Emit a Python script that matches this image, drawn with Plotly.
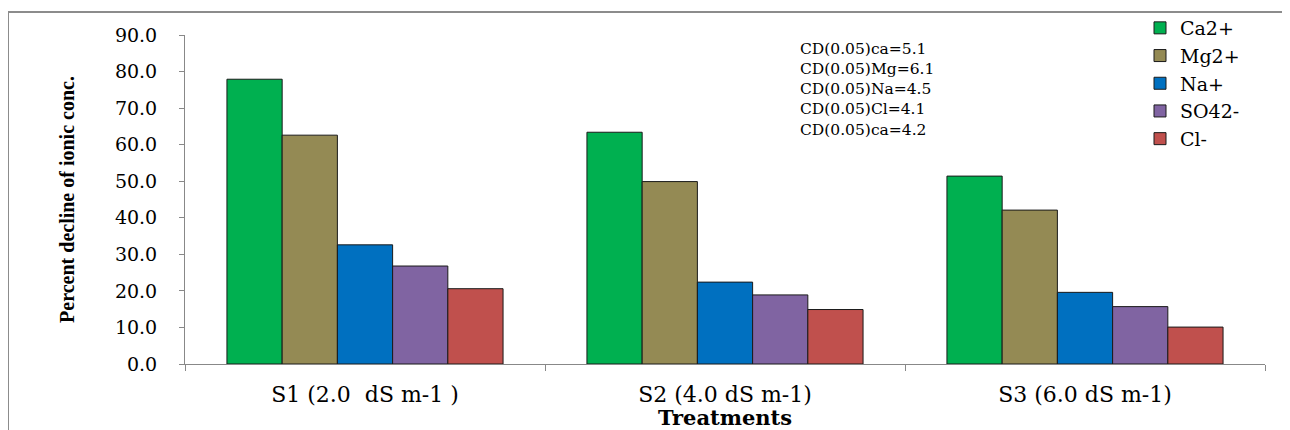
import plotly.graph_objects as go

categories = ["S1 (2.0  dS m-1 )", "S2 (4.0 dS m-1)", "S3 (6.0 dS m-1)"]
series_names = ["Ca2+", "Mg2+", "Na+", "SO42-", "Cl-"]
ca = [77.9, 63.4, 51.4]
mg = [62.6, 49.9, 42.1]
na = [32.6, 22.4, 19.6]
so4 = [26.8, 18.9, 15.7]
cl = [20.6, 14.9, 10.1]
series_values = [ca, mg, na, so4, cl]
colors = ["#00B050", "#948A54", "#0070C0", "#8064A2", "#C0504D"]
y_ticks = [0, 10, 20, 30, 40, 50, 60, 70, 80, 90]
y_tick_labels = [f"{v:.1f}" for v in y_ticks]
cd_lines = ["CD(0.05)ca=5.1", "CD(0.05)Mg=6.1", "CD(0.05)Na=4.5",
            "CD(0.05)Cl=4.1", "CD(0.05)ca=4.2"]

OFF = 8  # browser body margin
W, H = 1290 - OFF, 430 - OFF
L, R, T, B = 185 - OFF, 25, 35 - OFF, 66
pw, ph = W - L - R, H - T - B

def sx(px):
    return (px - OFF - L) / pw

def sy(py):
    return (H - B - (py - OFF)) / ph

serif = "Liberation Serif, Times New Roman, serif"
wide = "DejaVu Serif, serif"

fig = go.Figure()
for i, (name, vals, col) in enumerate(zip(series_names, series_values, colors)):
    fig.add_trace(go.Bar(
        x=categories, y=vals, name=name, legendgroup=f"g{i}",
        marker=dict(color=col, line=dict(color="#1a1a1a", width=1)),
    ))

fig.update_layout(
    width=W, height=H,
    margin=dict(l=L, r=R, t=T, b=B, autoexpand=False),
    paper_bgcolor="white", plot_bgcolor="white",
    barmode="group", bargap=0.233, bargroupgap=0,
    font=dict(family=wide, size=17, color="black"),
    showlegend=True,
    legend=dict(
        x=sx(1140), y=sy(9), xanchor="left", yanchor="top",
        font=dict(family=wide, size=19, color="black"),
        tracegroupgap=0, bgcolor="rgba(0,0,0,0)", itemwidth=30,
    ),
    xaxis=dict(
        automargin=False,
        showline=True, linecolor="#888888", linewidth=1,
        ticks="outside", ticklen=6, tickcolor="#888888",
        tickson="boundaries",
        tickfont=dict(family=wide, size=22),
        ticklabelstandoff=11,
        title=dict(text="<b>Treatments</b>", font=dict(family=wide, size=21), standoff=9),
    ),
    yaxis=dict(
        automargin=False,
        range=[0, 90], tickvals=y_ticks, ticktext=y_tick_labels,
        showline=True, linecolor="#888888", linewidth=1,
        ticks="outside", ticklen=5, tickcolor="#888888",
        showgrid=False, zeroline=False,
        tickfont=dict(family=wide, size=19),
        ticklabelstandoff=18,
        title=dict(text="<b>Percent decline of ionic conc.</b>",
                   font=dict(family=serif, size=20), standoff=34),
    ),
)

# outer chart frame
fig.add_shape(type="rect", xref="paper", yref="paper",
              x0=sx(8), x1=sx(1286),
              y0=sy(470), y1=sy(12),
              line=dict(color="#8c8c8c", width=2), fillcolor="rgba(0,0,0,0)", layer="below")

fig.add_annotation(
    xref="paper", yref="paper",
    x=sx(798), y=sy(38), xanchor="left", yanchor="top",
    text="<br>".join(cd_lines), align="left", showarrow=False,
    font=dict(family=wide, size=15.5, color="black"),
)

fig.write_html("out.html")
